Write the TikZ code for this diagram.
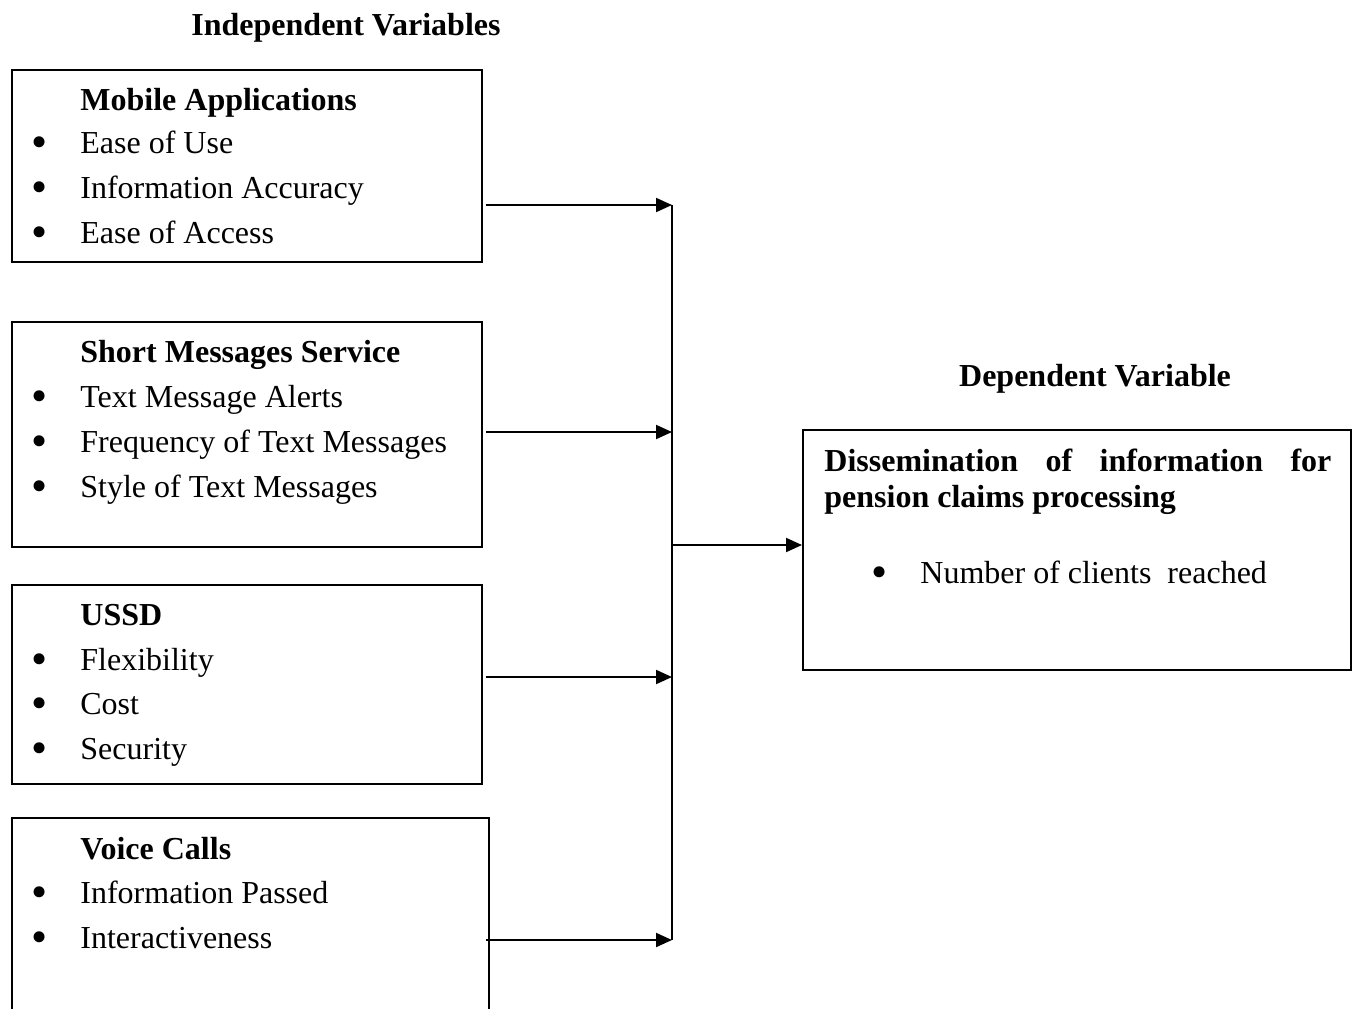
\documentclass[tikz,border=0pt]{standalone}
\usepackage{fontspec}
\setmainfont{Liberation Serif}
\usetikzlibrary{arrows.meta,fit}
\begin{document}
\begin{tikzpicture}[x=0.5pt,y=-0.5pt,
  every node/.style={font=\fontsize{16}{22.5}\selectfont, inner sep=0pt},
  box/.style={draw, line width=1pt, inner sep=0pt},
  hd/.style={anchor=base west, font=\fontsize{16}{22.5}\selectfont\bfseries},
  ttl/.style={anchor=base, font=\fontsize{16}{22.5}\selectfont\bfseries},
  itm/.style={anchor=base west},
  bul/.style={anchor=center, font=\fontsize{23}{23}\selectfont, yshift=-1.5pt},
  conn/.style={line width=1pt, -{Triangle[length=8pt,width=7pt]}},
  busline/.style={line width=1pt}]
\useasboundingbox (0,0) rectangle (1359,1008);
\clip (0,0) rectangle (1359,1008);

% titles
\node[ttl] (tind) at (346,35) {Independent Variables};
\node[ttl] (tdep) at (1095,386) {Dependent Variable};

% boxes
\node[box, fit={(12,70) (482,262)}] (b1) {};
\node[box, fit={(12,322) (482,547)}] (b2) {};
\node[box, fit={(12,585) (482,784)}] (b3) {};
\node[box, fit={(12,818) (489,1040)}] (b4) {};
\node[box, fit={(803,430) (1351,670)}] (dv) {};

% box 1
\node[hd] (h1) at (80,110) {Mobile Applications};
\node[bul] (p11) at (40,144) {•}; \node[itm] (i11) at (80,153) {Ease of Use};
\node[bul] (p12) at (40,189) {•}; \node[itm] (i12) at (80,198) {Information Accuracy};
\node[bul] (p13) at (40,234) {•}; \node[itm] (i13) at (80,243) {Ease of Access};

% box 2
\node[hd] (h2) at (80,362) {Short Messages Service};
\node[bul] (p21) at (40,398) {•}; \node[itm] (i21) at (80,407) {Text Message Alerts};
\node[bul] (p22) at (40,443) {•}; \node[itm] (i22) at (80,452) {Frequency of Text Messages};
\node[bul] (p23) at (40,488) {•}; \node[itm] (i23) at (80,497) {Style of Text Messages};

% box 3
\node[hd] (h3) at (80,625) {USSD};
\node[bul] (p31) at (40,661) {•}; \node[itm] (i31) at (80,670) {Flexibility};
\node[bul] (p32) at (40,705) {•}; \node[itm] (i32) at (80,714) {Cost};
\node[bul] (p33) at (40,750) {•}; \node[itm] (i33) at (80,759) {Security};

% box 4
\node[hd] (h4) at (80,859) {Voice Calls};
\node[bul] (p41) at (40,894) {•}; \node[itm] (i41) at (80,903) {Information Passed};
\node[bul] (p42) at (40,939) {•}; \node[itm] (i42) at (80,948) {Interactiveness};

% dependent box
\node[hd] (dh1) at (824,471) {\makebox[253.5pt][s]{Dissemination of information for}};
\node[hd] (dh2) at (824,507) {pension claims processing};
\node[bul] (dp1) at (880,574) {•}; \node[itm] (di1) at (920,583) {Number of clients\ \ reached};

% bus coordinates
\coordinate (j1) at (672,205);
\coordinate (j2) at (672,432);
\coordinate (j3) at (672,677);
\coordinate (j4) at (672,940);
\coordinate (jm) at (672,545);

\draw[busline] (j1) -- (j4);
\draw[conn] (b1.east |- j1) ++(3,0) -- (j1);
\draw[conn] (b2.east |- j2) ++(3,0) -- (j2);
\draw[conn] (b3.east |- j3) ++(3,0) -- (j3);
\draw[conn] (b4.east |- j4) ++(-4,0) -- (j4);
\draw[conn] (jm) -- (dv.west |- jm);
\end{tikzpicture}
\end{document}
